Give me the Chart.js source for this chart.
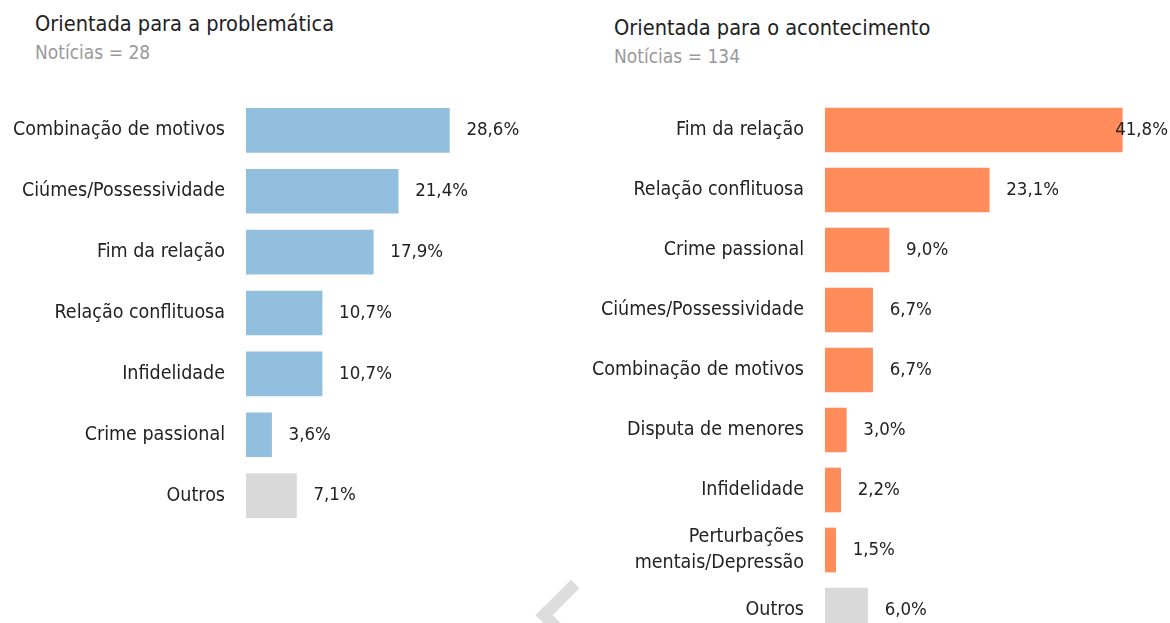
<!DOCTYPE html>
<html lang="pt">
<head>
    <meta charset="UTF-8">
    <title>Motivos - notícias</title>
    <script src="https://cdn.jsdelivr.net/npm/chart.js"></script>
    <style>
        html, body { margin: 0; padding: 0; overflow: hidden; background: #fff; }
        body { width: 1170px; height: 623px; position: relative; font-family: "DejaVu Sans Condensed", "Liberation Sans Narrow", sans-serif; }
        .title { position: absolute; font-size: 21.6px; color: #222; line-height: 24px; }
        .sub { position: absolute; font-size: 19px; color: #999; line-height: 22px; }
        canvas { position: absolute; }
        .chevron {
            position: absolute; left: 546px; top: 590px; width: 50px; height: 50px;
            border-top: 12px solid #ddd; border-left: 12px solid #ddd;
            box-sizing: border-box; transform: rotate(-45deg);
        }
    </style>
</head>
<body>
<div class="title" style="left:35px; top:12px;">Orientada para a problemática</div>
<div class="sub" style="left:35px; top:41px;">Notícias = 28</div>
<div class="title" style="left:614px; top:16px;">Orientada para o acontecimento</div>
<div class="sub" style="left:614px; top:45px;">Notícias = 134</div>
<div class="chevron"></div>

<canvas id="leftChart" width="585" height="426" style="left:0; top:100px;"></canvas>
<canvas id="rightChart" width="585" height="540" style="left:585px; top:100px;"></canvas>

<script>
    // dados
    const leftLabels = ['Combinação de motivos', 'Ciúmes/Possessividade', 'Fim da relação', 'Relação conflituosa', 'Infidelidade', 'Crime passional', 'Outros'];
    const leftValues = [28.6, 21.4, 17.9, 10.7, 10.7, 3.6, 7.1];

    const rightLabels = ['Fim da relação', 'Relação conflituosa', 'Crime passional', 'Ciúmes/Possessividade', 'Combinação de motivos', 'Disputa de menores', 'Infidelidade', ['Perturbações', 'mentais/Depressão'], 'Outros'];
    const rightValues = [41.8, 23.1, 9.0, 6.7, 6.7, 3.0, 2.2, 1.5, 6.0];

    const FONT = '"DejaVu Sans Condensed", "Liberation Sans Narrow", sans-serif';

    // rótulos de valor ao lado da barra
    const valueLabels = {
        id: 'valueLabels',
        afterDatasetsDraw(chart) {
            const ctx = chart.ctx;
            const meta = chart.getDatasetMeta(0);
            ctx.save();
            ctx.font = '18.5px ' + FONT;
            ctx.fillStyle = '#222';
            ctx.textBaseline = 'middle';
            meta.data.forEach((bar, i) => {
                const txt = chart.data.datasets[0].data[i].toFixed(1).replace('.', ',') + '%';
                const w = ctx.measureText(txt).width;
                let x = bar.x + 17;
                if (x + w > chart.width - 2) x = chart.width - 2 - w;
                ctx.fillText(txt, x, bar.y);
            });
            ctx.restore();
        }
    };

    function makeChart(id, labels, values, color, axisWidth, padRight) {
        const colors = values.map((v, i) => i === values.length - 1 ? '#d9d9d9' : color);
        return new Chart(document.getElementById(id), {
            type: 'bar',
            data: {
                labels: labels,
                datasets: [{
                    data: values,
                    backgroundColor: colors,
                    borderWidth: 0,
                    categoryPercentage: 1,
                    barThickness: 44
                }]
            },
            options: {
                indexAxis: 'y',
                responsive: false,
                animation: false,
                layout: { padding: { left: 0, right: padRight, top: 0, bottom: 0 } },
                plugins: { legend: { display: false }, tooltip: { enabled: false } },
                scales: {
                    x: { display: false, min: 0, max: 45 },
                    y: {
                        grid: { display: false, drawTicks: false },
                        border: { display: false },
                        ticks: { color: '#222', font: { family: FONT, size: 19.5, lineHeight: 1.3 }, padding: 21 },
                        afterFit(scale) {
                            scale.width = axisWidth;
                            scale.paddingTop = 0;
                            scale.paddingBottom = 0;
                        }
                    }
                }
            },
            plugins: [valueLabels]
        });
    }

    makeChart('leftChart', leftLabels, leftValues, '#93bfde', 246, 585 - 246 - 320);
    makeChart('rightChart', rightLabels, rightValues, '#ff8c5a', 240, 585 - 240 - 320);
</script>
</body>
</html>
